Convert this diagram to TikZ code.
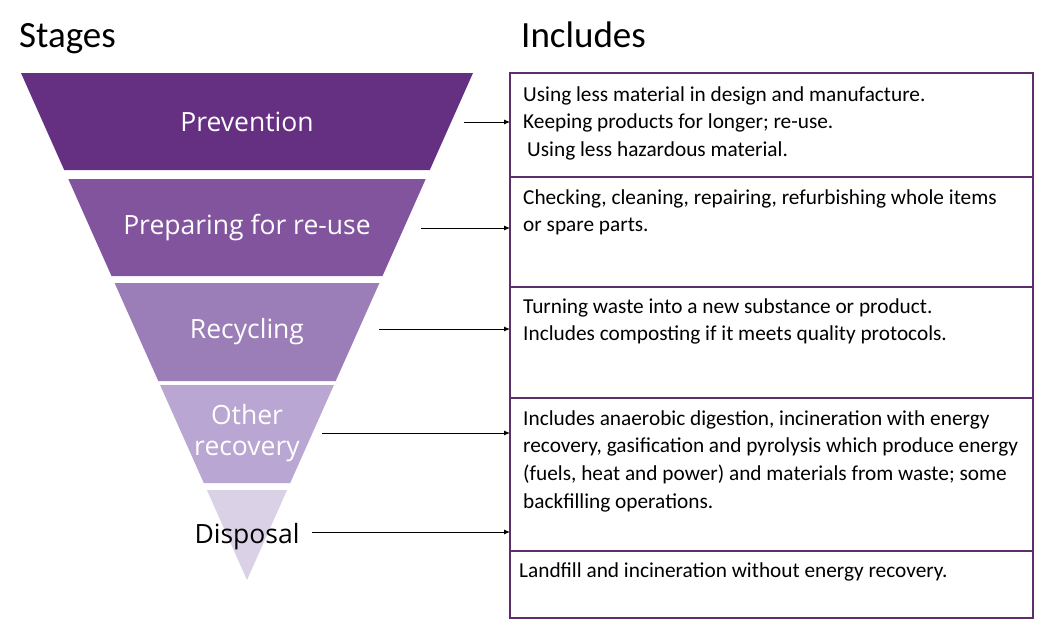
\documentclass[tikz,border=0pt]{standalone}
\usepackage{fontspec}
\setmainfont{Carlito}
\newfontfamily\stagefont{Open Sans}
\usetikzlibrary{arrows.meta}
\definecolor{cA}{HTML}{663082}
\definecolor{cB}{HTML}{82549E}
\definecolor{cC}{HTML}{9B7DB7}
\definecolor{cD}{HTML}{B9A6D2}
\definecolor{cE}{HTML}{DAD1E6}
\definecolor{cellline}{HTML}{5E2D6E}
\begin{document}
\begin{tikzpicture}[x=1pt,y=-1pt,
  head/.style={anchor=base west, inner sep=0pt, font=\fontsize{37}{40}\selectfont},
  stagelbl/.style={anchor=base, inner sep=0pt, align=center, text=white, font=\stagefont\fontsize{26.5}{31}\selectfont},
  cell/.style={draw=cellline, line width=1.1pt, minimum width=523pt, inner sep=0pt, outer sep=0pt, anchor=north west},
  desc/.style={anchor=base west, inner sep=0pt, align=left, font=\fontsize{21.3}{27.7}\selectfont},
  conn/.style={line width=0.9pt, -{Latex[length=6pt,width=5pt]}}
]
\useasboundingbox (0,0) rectangle (1046,635);
\fill[white] (0,0) rectangle (1046,635);

% headings
\node[head] (hs) at (19,47) {Stages};
\node[head] (hi) at (521,47) {Includes};

% funnel layers
\fill[cA] (21,73) -- (473,73) -- (429.8,170) -- (64.2,170) -- cycle;
\fill[cB] (68.3,179) -- (425.7,179) -- (382.5,276) -- (111.5,276) -- cycle;
\fill[cC] (114.6,283) -- (379.4,283) -- (335.7,381) -- (158.3,381) -- cycle;
\fill[cD] (160.1,385) -- (333.9,385) -- (290.2,483) -- (203.8,483) -- cycle;
\fill[cE] (206.9,490) -- (287.1,490) -- (247,580) -- cycle;

% stage labels (base anchor = baseline of last line)
\node[stagelbl] (l1) at (247,131) {Prevention};
\node[stagelbl] (l2) at (247,234) {Preparing for re-use};
\node[stagelbl] (l3) at (247,338) {Recycling};
\node[stagelbl] (l4) at (247,455) {Other\\recovery};
\node[stagelbl, text=black] (l5) at (247,543) {Disposal};

% table cells
\node[cell, minimum height=104pt] (b1) at (510,73) {};
\node[cell, minimum height=110pt] (b2) at (510,177) {};
\node[cell, minimum height=111pt] (b3) at (510,287) {};
\node[cell, minimum height=153pt] (b4) at (510,398) {};
\node[cell, minimum height=67pt] (b5) at (510,551) {};

% descriptions (base anchor = baseline of last line)
\node[desc] (t1) at (523,156.4) {Using less material in design and manufacture.\\Keeping products for longer; re-use.\\\hspace{4pt}Using less hazardous material.};
\node[desc] (t2) at (523,231.7) {Checking, cleaning, repairing, refurbishing whole items\\or spare parts.};
\node[desc] (t3) at (523,340.7) {Turning waste into a new substance or product.\\Includes composting if it meets quality protocols.};
\node[desc] (t4) at (523,508.1) {Includes anaerobic digestion, incineration with energy\\recovery, gasification and pyrolysis which produce energy\\(fuels, heat and power) and materials from waste; some\\backfilling operations.};
\node[desc] (t5) at (519,577) {Landfill and incineration without energy recovery.};

% connectors
\coordinate (s1) at (464,122);
\coordinate (s2) at (421,228);
\coordinate (s3) at (379,329);
\coordinate (s4) at (322,433);
\coordinate (s5) at (312,532);
\draw[conn] (s1) -- (s1 -| b1.west);
\draw[conn] (s2) -- (s2 -| b2.west);
\draw[conn] (s3) -- (s3 -| b3.west);
\draw[conn] (s4) -- (s4 -| b4.west);
\draw[conn] (s5) -- (s5 -| b4.west);
\end{tikzpicture}
\end{document}
